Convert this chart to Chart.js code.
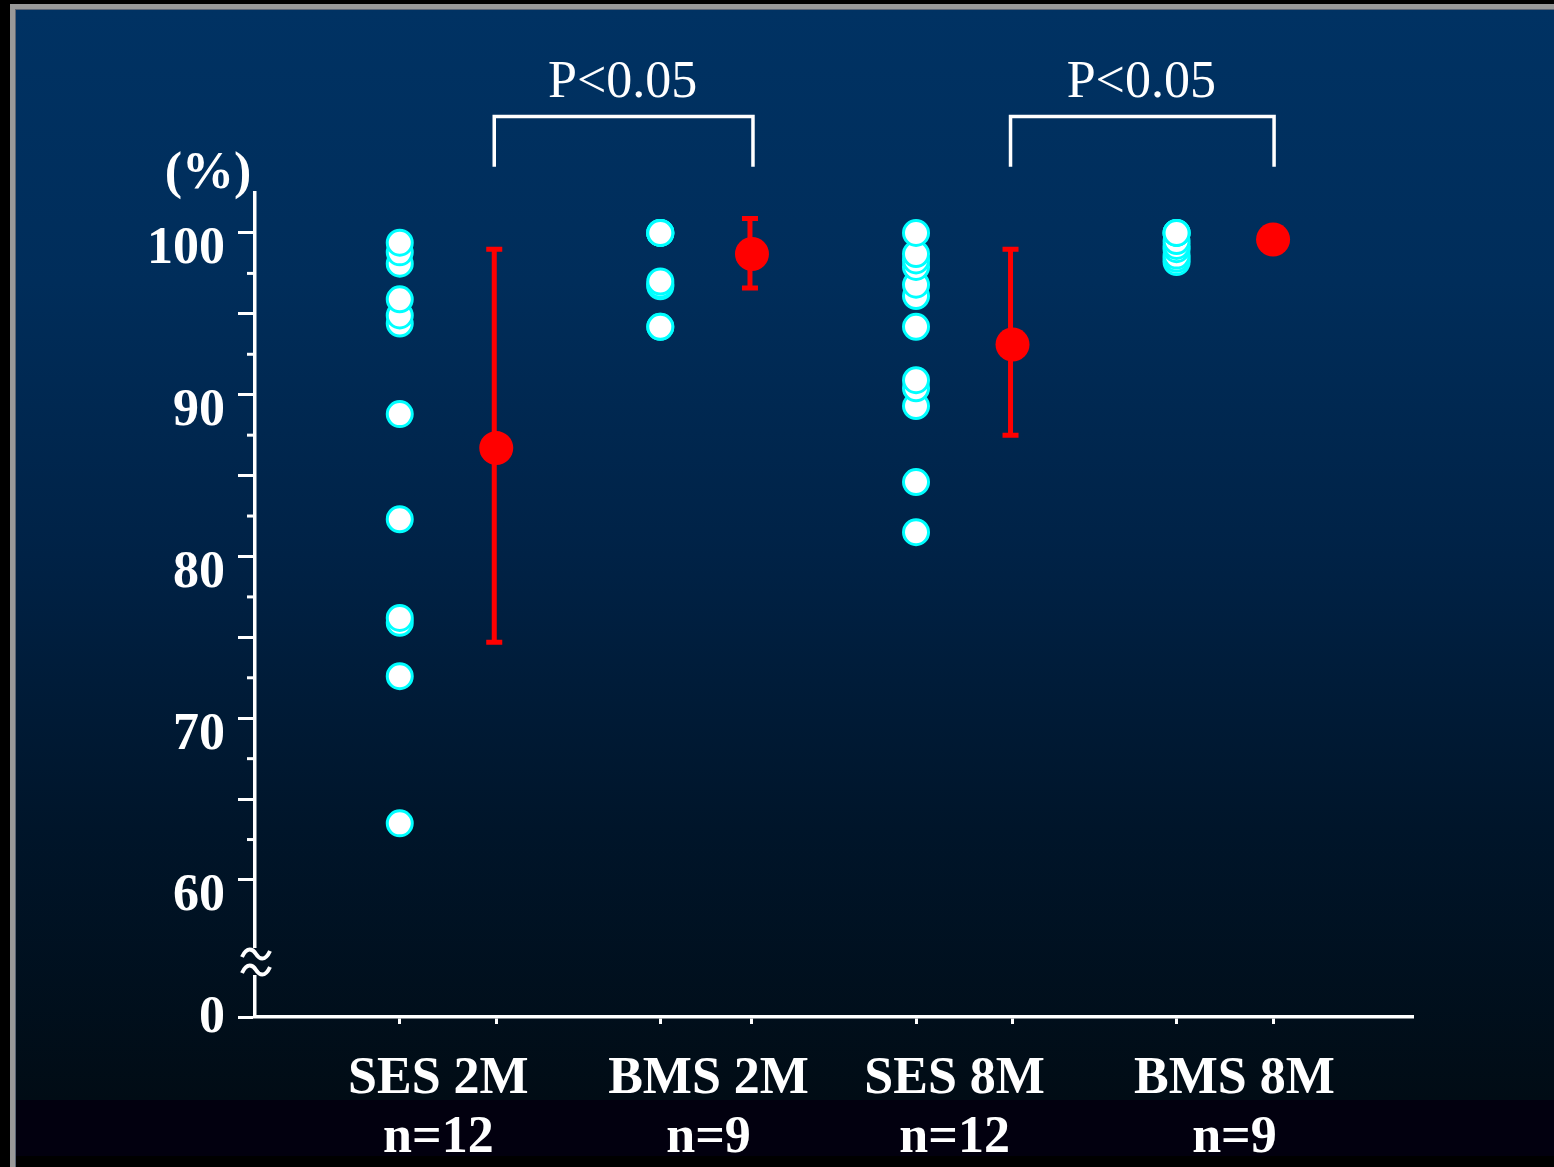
<!DOCTYPE html>
<html>
<head>
<meta charset="utf-8">
<script src="https://cdn.jsdelivr.net/npm/chart.js@4.4.1/dist/chart.umd.min.js"></script>
<style>
  html, body { margin: 0; padding: 0; background: #000; }
  #wrap { width: 1554px; height: 1167px; }
</style>
</head>
<body>
<div id="wrap"><canvas id="chartStent" width="1554" height="1167"></canvas></div>
<script>
// data
const categories = ['SES 2M', 'BMS 2M', 'SES 8M', 'BMS 8M'];
const sampleSizes = ['n=12', 'n=9', 'n=12', 'n=9'];

const ses2m = [63.5, 72.6, 75.9, 76.2, 82.3, 88.8, 94.4, 94.9, 95.9, 98.1, 98.8, 99.4];
const bms2m = [94.2, 94.2, 96.7, 96.8, 97.0, 100, 100, 100, 100];
const ses8m = [81.5, 84.6, 89.3, 90.4, 90.9, 94.2, 96.1, 96.8, 97.9, 98.3, 98.7, 100];
const bms8m = [98.2, 98.4, 98.6, 99.0, 99.2, 99.5, 100, 100, 100];

const means = [86.7, 98.7, 93.1, 99.6];
const errLow = [74.7, 96.6, 87.5, 99.1];
const errHigh = [99.0, 100.9, 99.0, 100.1];

const yLabelTicks = [60, 70, 80, 90, 100];
const pLabels = ['P<0.05', 'P<0.05'];

// layout (x positions on a 0..12 linear axis)
const groupX = [1.5, 4.2, 6.85, 9.55];
const meanX = [2.5, 5.15, 7.85, 10.55];
const labelX = [1.9, 4.7, 7.25, 10.15];
const Y_MIN = 51.53;   // axis break: this spot is labelled "0"
const Y_MAX = 102.47;

const W = 1554, H = 1167;
const FONT = "'Liberation Serif', 'Times New Roman', serif";

function slideGradient(c) {
  const g = c.createLinearGradient(0, 10, 0, 1100);
  g.addColorStop(0, '#003263');
  g.addColorStop(0.25, '#002d5a');
  g.addColorStop(0.5, '#002246');
  g.addColorStop(0.75, '#00152a');
  g.addColorStop(1, '#010c15');
  return g;
}

const slideBg = {
  id: 'slideBg',
  beforeDraw(chart) {
    const c = chart.ctx;
    c.save();
    c.fillStyle = '#000';
    c.fillRect(0, 0, W, H);
    c.fillStyle = '#999999';
    c.fillRect(10, 4, W - 10, H - 4);
    c.fillStyle = '#5d6675';
    c.fillRect(15, 9, W - 15, H - 9);
    c.fillStyle = slideGradient(c);
    c.fillRect(16, 10, W - 16, 1090);
    c.fillStyle = '#02000f';
    c.fillRect(16, 1100, W - 16, 56);
    c.fillStyle = '#000';
    c.fillRect(16, 1156, W - 16, H - 1156);
    c.restore();
  }
};

const errorBars = {
  id: 'errorBars',
  beforeDatasetsDraw(chart) {
    const c = chart.ctx, xs = chart.scales.x, ys = chart.scales.y;
    c.save();
    c.strokeStyle = '#ff0000';
    means.forEach((m, i) => {
      const x = xs.getPixelForValue(meanX[i]) - 2;
      const lo = ys.getPixelForValue(errLow[i]);
      const hi = ys.getPixelForValue(errHigh[i]);
      c.lineWidth = 5;
      c.beginPath(); c.moveTo(x, lo); c.lineTo(x, hi); c.stroke();
      c.lineWidth = 5;
      c.beginPath();
      c.moveTo(x - 8, lo); c.lineTo(x + 8, lo);
      c.moveTo(x - 8, hi); c.lineTo(x + 8, hi);
      c.stroke();
    });
    c.restore();
  }
};

function tilde(c, cx, cy) {
  c.beginPath();
  c.moveTo(cx - 14, cy + 3);
  c.bezierCurveTo(cx - 9, cy - 8, cx - 3, cy - 5, cx, cy);
  c.bezierCurveTo(cx + 3, cy + 5, cx + 9, cy + 8, cx + 14, cy - 3);
  c.stroke();
}

const extras = {
  id: 'extras',
  afterDraw(chart) {
    const c = chart.ctx, xs = chart.scales.x, ys = chart.scales.y;
    const area = chart.chartArea;
    c.save();
    c.strokeStyle = '#ffffff';
    c.fillStyle = '#ffffff';

    // minor ticks between the long ones
    c.lineWidth = 3;
    for (let v = 62.5; v < 100; v += 5) {
      const y = ys.getPixelForValue(v);
      c.beginPath(); c.moveTo(area.left - 8, y); c.lineTo(area.left, y); c.stroke();
    }

    // axis break
    const zero = ys.getPixelForValue(Y_MIN);
    c.fillStyle = slideGradient(c);
    c.fillRect(area.left - 6, zero - 69, 12, 27);
    c.fillStyle = '#ffffff';
    c.lineWidth = 4;
    tilde(c, area.left + 1, zero - 63);
    tilde(c, area.left + 1, zero - 47);

    // "0" under the break
    c.font = 'bold 52px ' + FONT;
    c.textAlign = 'right';
    c.textBaseline = 'middle';
    c.fillText('0', area.left - 30, zero + 2);

    // unit
    c.textAlign = 'center';
    c.textBaseline = 'alphabetic';
    c.fillText('(%)', area.left - 47, area.top - 5);

    // significance brackets
    c.lineWidth = 3.5;
    c.font = '52px ' + FONT;
    const top = ys.getPixelForValue(107.2);
    const leg = ys.getPixelForValue(104.1);
    const txt = ys.getPixelForValue(108.4);
    [[0, 1], [2, 3]].forEach(([a, b], k) => {
      const x1 = xs.getPixelForValue(meanX[a]) - 2;
      const x2 = xs.getPixelForValue(meanX[b]) + 1;
      c.beginPath();
      c.moveTo(x1, leg); c.lineTo(x1, top); c.lineTo(x2, top); c.lineTo(x2, leg);
      c.stroke();
      c.fillText(pLabels[k], (x1 + x2) / 2 - 1, txt);
    });
    c.restore();
  }
};

const groups = [ses2m, bms2m, ses8m, bms8m];
const pointData = groups.flatMap((vals, g) => vals.map(v => ({ x: groupX[g], y: v })));
const meanData = means.map((v, g) => ({ x: meanX[g], y: v }));

const ctx = document.getElementById('chartStent').getContext('2d');

new Chart(ctx, {
  type: 'scatter',
  data: {
    datasets: [{
      label: 'Individual',
      data: pointData,
      pointRadius: 12.5,
      pointHoverRadius: 12.5,
      borderWidth: 3,
      borderColor: '#00ffff',
      backgroundColor: '#ffffff'
    }, {
      label: 'Mean',
      data: meanData,
      pointRadius: 17,
      pointHoverRadius: 17,
      borderWidth: 0,
      borderColor: '#ff0000',
      backgroundColor: '#ff0000'
    }]
  },
  options: {
    responsive: false,
    animation: false,
    devicePixelRatio: 1,
    layout: { padding: { top: 193, right: 141, bottom: 0, left: 0 } },
    scales: {
      x: {
        type: 'linear',
        min: 0,
        max: 12,
        position: 'bottom',
        weight: 0,
        afterBuildTicks: scale => {
          scale.ticks = groupX.concat(meanX).sort((a, b) => a - b).map(v => ({ value: v }));
        },
        afterFit: scale => { scale.height = 10; },
        ticks: { display: false },
        grid: {
          drawOnChartArea: false,
          drawTicks: true,
          tickLength: 7,
          tickWidth: 3,
          tickColor: '#ffffff'
        },
        border: { display: true, color: '#ffffff', width: 3.5 }
      },
      x2: {
        type: 'linear',
        min: 0,
        max: 12,
        position: 'bottom',
        weight: 1,
        afterBuildTicks: scale => {
          scale.ticks = labelX.map(v => ({ value: v }));
        },
        afterFit: scale => { scale.height = 140; },
        ticks: {
          autoSkip: false,
          maxRotation: 0,
          padding: 15,
          color: '#ffffff',
          font: { family: FONT, size: 52, weight: 'bold', lineHeight: 1.13 },
          callback: (v, i) => [categories[i], sampleSizes[i]]
        },
        grid: { display: false },
        border: { display: false }
      },
      y: {
        type: 'linear',
        min: Y_MIN,
        max: Y_MAX,
        afterBuildTicks: scale => {
          const t = [Y_MIN];
          for (let v = 60; v <= 100; v += 5) t.push(v);
          scale.ticks = t.map(v => ({ value: v }));
        },
        afterFit: scale => { scale.width = 255; },
        ticks: {
          padding: 13,
          labelOffset: 17,
          color: '#ffffff',
          font: { family: FONT, size: 52, weight: 'bold' },
          callback: v => (yLabelTicks.includes(v) ? String(v) : '')
        },
        grid: {
          drawOnChartArea: false,
          drawTicks: true,
          tickLength: 17,
          tickWidth: 3,
          tickColor: '#ffffff'
        },
        border: { display: true, color: '#ffffff', width: 3.5 }
      }
    },
    plugins: {
      legend: { display: false },
      tooltip: { enabled: false }
    }
  },
  plugins: [slideBg, errorBars, extras]
});
</script>
</body>
</html>
